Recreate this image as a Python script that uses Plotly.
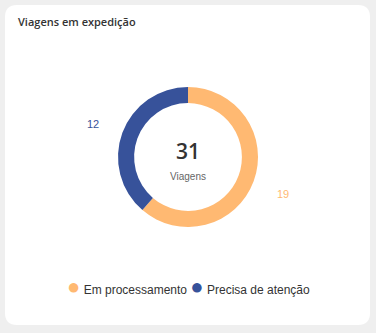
import math
import plotly.graph_objects as go

# Trip status breakdown
categories = ["Em processamento", "Precisa de atenção"]
values = [19, 12]
colors = ["#FFB972", "#37529A"]
title_text = "Viagens em expedição"
center_caption = "Viagens"

W, H = 376, 333
cx, cy, R = 188, 157, 70        # donut centre and outer radius (px)
label_r = 101                   # radial distance of the value labels (px)

fig = go.Figure()

fig.add_trace(go.Pie(
    labels=categories,
    values=values,
    marker=dict(colors=colors, line=dict(width=0)),
    hole=0.77,
    sort=False,
    direction="clockwise",
    rotation=0,
    textinfo="none",
    hoverinfo="label+value",
    showlegend=False,
    domain=dict(x=[0, 1], y=[(H - cy - R) / H, (H - cy + R) / H]),
))

# value labels placed at each slice's mid-angle
total = sum(values)
start = 0.0
annotations = []
for v, col in zip(values, colors):
    mid = start + v / total * 360 / 2
    start += v / total * 360
    a = math.radians(mid)
    px = cx + label_r * math.sin(a)
    py = cy - label_r * math.cos(a) + 2
    annotations.append(dict(
        x=px / W, y=1 - py / H, xref="paper", yref="paper",
        text=str(v), showarrow=False,
        font=dict(family="Liberation Sans, Arial, sans-serif", size=11, color=col),
        xanchor="center", yanchor="middle",
    ))

# centre total
annotations.append(dict(
    x=cx / W, y=1 - 151 / H, xref="paper", yref="paper",
    text=str(total), showarrow=False,
    font=dict(family="Open Sans, sans-serif", size=21, color="#333333", weight=600),
    xanchor="center", yanchor="middle",
))
annotations.append(dict(
    x=cx / W, y=1 - 176 / H, xref="paper", yref="paper",
    text=center_caption, showarrow=False,
    font=dict(family="Liberation Sans, Arial, sans-serif", size=10, color="#666666"),
    xanchor="center", yanchor="middle",
))
# card title
annotations.append(dict(
    x=16 / W, y=1 - 22 / H, xref="paper", yref="paper",
    text=title_text, showarrow=False,
    font=dict(family="Open Sans, sans-serif", size=11, color="#333333", weight=600),
    xanchor="left", yanchor="middle",
))

# legend: coloured dot followed by the category name
legend_parts = [
    f"<span style='font-size:22px;color:{col}'>●</span>&nbsp;{name}"
    for name, col in zip(categories, colors)
]
annotations.append(dict(
    x=cx / W, y=1 - 286 / H, xref="paper", yref="paper",
    text="&nbsp;".join(legend_parts), showarrow=False,
    font=dict(family="Liberation Sans, Arial, sans-serif", size=12, color="#333333"),
    xanchor="center", yanchor="middle",
))

# white rounded card behind the chart
x0, x1, y0, y1, r = 5, 370, 5, 325, 12
def P(x, y):
    return f"{x / W:.5f},{1 - y / H:.5f}"
path = (
    f"M {P(x0 + r, y0)} L {P(x1 - r, y0)} "
    f"Q {P(x1, y0)} {P(x1, y0 + r)} "
    f"L {P(x1, y1 - r)} Q {P(x1, y1)} {P(x1 - r, y1)} "
    f"L {P(x0 + r, y1)} Q {P(x0, y1)} {P(x0, y1 - r)} "
    f"L {P(x0, y0 + r)} Q {P(x0, y0)} {P(x0 + r, y0)} Z"
)

fig.update_layout(
    width=W, height=H,
    margin=dict(l=0, r=0, t=0, b=0),
    paper_bgcolor="#EFEFEF",
    showlegend=False,
    shapes=[dict(type="path", path=path, xref="paper", yref="paper",
                 fillcolor="#FFFFFF", line=dict(width=0), layer="below")],
    annotations=annotations,
)

fig.write_html("out.html")
